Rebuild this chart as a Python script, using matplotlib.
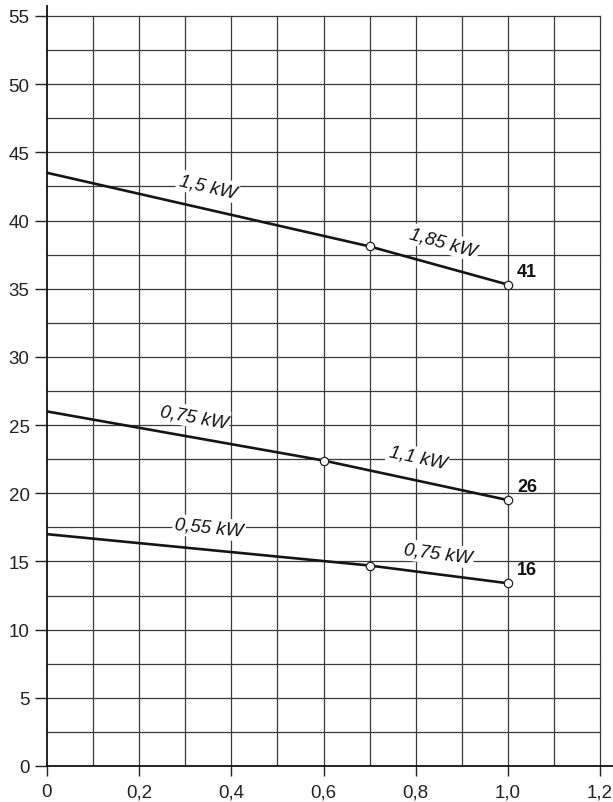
import numpy as np
import matplotlib
matplotlib.use("Agg")
import matplotlib.pyplot as plt

# Data
x41 = [0.0, 0.7, 1.0]
y41 = [43.5, 38.1, 35.3]
x26 = [0.0, 0.6, 1.0]
y26 = [26.0, 22.4, 19.5]
x16 = [0.0, 0.7, 1.0]
y16 = [17.0, 14.7, 13.4]

curves = [
    (x41, y41, "41", ["1,5 kW", "1,85 kW"], [(0.345, 41.9), (0.855, 37.8)]),
    (x26, y26, "26", ["0,75 kW", "1,1 kW"], [(0.315, 25.0), (0.80, 22.0)]),
    (x16, y16, "16", ["0,55 kW", "0,75 kW"], [(0.35, 16.85), (0.845, 14.95)]),
]

xticks = [0, 0.2, 0.4, 0.6, 0.8, 1.0, 1.2]
xticklabels = ["0", "0,2", "0,4", "0,6", "0,8", "1,0", "1,2"]
yticks = list(range(0, 60, 5))

plt.rcParams['font.family'] = ['Liberation Sans', 'DejaVu Sans']

fig = plt.figure(figsize=(6.13, 8.03), dpi=100)
ax = fig.add_axes([47/613, 36/803, 1 - 47/613, (767 - 7)/803])
ax.set_xlim(0, 1.228)
ax.set_ylim(0, 55.73)

gc = '#3a3a3a'
for xv in np.arange(0.1, 1.201, 0.1):
    ax.plot([xv, xv], [0, 55], color=gc, lw=0.9, zorder=0.5)
for yv in np.arange(2.5, 55.01, 2.5):
    ax.plot([0, 1.2], [yv, yv], color=gc, lw=0.9, zorder=0.5)

for s in ['top', 'right']:
    ax.spines[s].set_visible(False)
for s in ['left', 'bottom']:
    ax.spines[s].set_linewidth(1.3)
    ax.spines[s].set_color('#111111')

ax.set_xticks(xticks)
ax.set_xticklabels(xticklabels)
ax.set_yticks(yticks)
ax.tick_params(axis='y', direction='out', length=8.5, width=1.0, labelsize=13.5, pad=4, colors='#222222')
ax.tick_params(axis='x', direction='out', length=7.5, width=1.0, labelsize=13.5, pad=5, colors='#222222')

def seg_angle(xa, ya, xb, yb):
    p = ax.transData.transform([(xa, ya), (xb, yb)])
    return np.degrees(np.arctan2(p[1, 1] - p[0, 1], p[1, 0] - p[0, 0]))

for xs, ys, name, labels, pos in curves:
    ax.plot(xs, ys, color='#151515', lw=1.9, zorder=3)
    ax.plot(xs[1:], ys[1:], 'o', ms=6, mfc='white', mec='#222222', mew=0.9, zorder=4)
    for i, (lab, (lx, ly)) in enumerate(zip(labels, pos)):
        ang = seg_angle(xs[i], ys[i], xs[i + 1], ys[i + 1])
        ax.text(lx, ly, lab, rotation=ang, rotation_mode='anchor', ha='center', va='bottom',
                fontsize=13.5, style='italic', color='#111111', zorder=2,
                bbox=dict(boxstyle='square,pad=0.12', fc='white', ec='none'))
    ax.text(1.02, ys[-1] + 0.35, name, fontsize=13, fontweight='bold', ha='left', va='bottom',
            color='#111111', zorder=5)

fig.savefig("out.png", dpi=100)
